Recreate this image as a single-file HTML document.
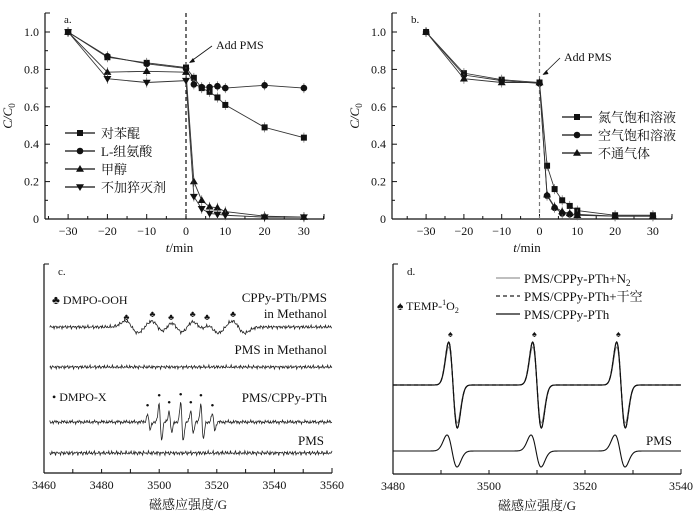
<!DOCTYPE html>
<html><head><meta charset="utf-8"><style>
body{margin:0;background:#fff}
svg{display:block;font-family:"Liberation Serif","Noto Serif CJK SC",serif}
text{fill:#111}
</style></head><body>
<svg id="s" width="697" height="519" viewBox="0 0 697 519" xmlns="http://www.w3.org/2000/svg"></svg>
<script>
// ---- data ----
const times=[-30,-20,-10,0,2,4,6,8,10,20,30];
const aNames=['对苯醌','L-组氨酸','甲醇','不加猝灭剂'];
const aBQ=[1.0,0.865,0.835,0.81,0.755,0.70,0.68,0.65,0.61,0.49,0.435];
const aHis=[1.0,0.87,0.83,0.805,0.72,0.705,0.705,0.71,0.70,0.715,0.70];
const aMeOH=[1.0,0.785,0.79,0.785,0.20,0.10,0.065,0.06,0.04,0.015,0.01];
const aNone=[1.0,0.75,0.73,0.74,0.12,0.055,0.03,0.025,0.02,0.01,0.01];
const bNames=['氮气饱和溶液','空气饱和溶液','不通气体'];
const bN2=[1.0,0.78,0.745,0.73,0.285,0.16,0.10,0.07,0.045,0.02,0.02];
const bAir=[1.0,0.77,0.74,0.725,0.125,0.06,0.03,0.025,0.025,0.015,0.015];
const bNone=[1.0,0.75,0.73,0.73,0.13,0.065,0.04,0.03,0.02,0.015,0.015];
const xTicks=[-30,-20,-10,0,10,20,30];
const yTicks=[0,0.2,0.4,0.6,0.8,1.0];
const yTickLabels=['0','0.2','0.4','0.6','0.8','1.0'];
const cTicks=[3460,3480,3500,3520,3540,3560];
const dTicks=[3480,3500,3520,3540];
const ooHPeaks=[3489,3498,3504.5,3512,3517,3526];
const dmpoXPeaks=[3496,3500,3503.5,3507.5,3511,3514.5,3518.5];
const dmpoXAmp=[8,18,11,19,11,18,8];
const tempPeaks=[3492.5,3510,3527.5];
const pmsPeaks=[3492.3,3509.8,3527.3];

const S=document.getElementById('s');const NS='http://www.w3.org/2000/svg';
function el(t,a,p){const e=document.createElementNS(NS,t);for(const k in a)e.setAttribute(k,a[k]);(p||S).appendChild(e);return e;}
function tx(x,y,s,o){const e=el('text',Object.assign({x:x,y:y,'font-size':12},o||{}));e.textContent=s;return e;}

function axesFrame(g,L,R,T,B){
  el('line',{x1:L,y1:T,x2:L,y2:B,stroke:'#111','stroke-width':1.2},g);
  el('line',{x1:L,y1:B,x2:R,y2:B,stroke:'#111','stroke-width':1.2},g);
  el('line',{x1:L,y1:T,x2:L+5,y2:T,stroke:'#111'},g);
  el('line',{x1:R,y1:B,x2:R,y2:B-5,stroke:'#111'},g);
}
function marker(g,type,x,y){
  let m;
  if(type==0)m=el('rect',{x:x-3,y:y-3,width:6,height:6,fill:'#111'},g);
  else if(type==1)m=el('circle',{cx:x,cy:y,r:3.3,fill:'#111'},g);
  else if(type==2)m=el('path',{d:`M${x},${y-4}L${x+4},${y+2.7}L${x-4},${y+2.7}Z`,fill:'#111'},g);
  else m=el('path',{d:`M${x},${y+4}L${x+4},${y-2.7}L${x-4},${y-2.7}Z`,fill:'#111'},g);
  return m;
}
function kinetic(id,L,R,T,B,x0,xs,series,names,legX,legY,dashCol,label,pmsTxt){
  const g=el('g',{});
  
  
  const X=v=>x0+v*xs, Y=v=>B-v*187;
  axesFrame(g,L,R,T,B);
  xTicks.forEach(t=>{el('line',{x1:X(t),y1:B,x2:X(t),y2:B-5,stroke:'#111'},g);tx(X(t),B+16,t<0?'−'+(-t):String(t),{'text-anchor':'middle'});});
  [-35,-25,-15,-5,5,15,25,35].forEach(t=>{if(X(t)>L&&X(t)<R)el('line',{x1:X(t),y1:B,x2:X(t),y2:B-3,stroke:'#111'},g);});
  yTicks.forEach((t,i)=>{el('line',{x1:L,y1:Y(t),x2:L+5,y2:Y(t),stroke:'#111'},g);tx(L-6,Y(t)+4,yTickLabels[i],{'text-anchor':'end'});});
  [0.1,0.3,0.5,0.7,0.9].forEach(t=>el('line',{x1:L,y1:Y(t),x2:L+3,y2:Y(t),stroke:'#111'},g));
  el('line',{x1:X(0),y1:T,x2:X(0),y2:B,stroke:dashCol,'stroke-width':1.2,'stroke-dasharray':'4,3'},g);
  const yl=tx(0,0,'',{transform:`translate(${L-33},${(T+B)/2}) rotate(-90)`,'text-anchor':'middle','font-size':13,'font-style':'italic'});
  yl.innerHTML='C/C<tspan font-size="9" dy="3" font-style="normal">0</tspan>';
  
  const xl=tx((L+R)/2-5,B+33,'',{'text-anchor':'middle','font-size':13});
  xl.innerHTML='<tspan font-style="italic">t</tspan>/min';
  
  tx(L+19,T+10,label,{'font-size':11});
  series.forEach((s,k)=>{
    const pts=s.map((v,i)=>X(times[i])+','+Y(v)).join(' ');
    const pl=el('polyline',{points:pts,fill:'none',stroke:'#333','stroke-width':0.9},g);
    
    s.forEach((v,i)=>{
      el('line',{x1:X(times[i]),y1:Y(v)-5,x2:X(times[i]),y2:Y(v)+5,stroke:'#666','stroke-width':0.7},g);
      const m=marker(g,k,X(times[i]),Y(v));
      
      
    });
  });
  names.forEach((n,k)=>{
    const y=legY+k*18;
    const lg=el('g',{},g);
    
    
    el('line',{x1:legX,y1:y,x2:legX+30,y2:y,stroke:'#111','stroke-width':1.2},lg);
    marker(lg,k,legX+15,y);
    tx(legX+36,y+5,n,{'font-size':13});
  });
  tx(pmsTxt[0],pmsTxt[1],'Add PMS',{'font-size':12});
  el('line',{x1:pmsTxt[0]-4,y1:pmsTxt[1]-3,x2:X(0)+4,y2:pmsTxt[1]+13,stroke:'#111','stroke-width':0.8},g);
  el('path',{d:`M${X(0)+3},${pmsTxt[1]+14}l6,-1l-2,-4z`,fill:'#111'},g);
}
kinetic('panel-a',45,324,13,219,186,3.93,[aBQ,aHis,aMeOH,aNone],aNames,65,133,'#111','a.',[216,49]);
kinetic('panel-b',392,672,13,219,539.5,3.78,[bN2,bAir,bNone],bNames,562,117,'#777','b.',[564,61]);

// ---- spectra ----
function dg(x,c,w){const u=(x-c)/w;return -u*Math.exp(0.5-u*u/2);}
function noise(x,k){return Math.sin(x*7.3+k)*0.9+Math.sin(x*13.7+k*2.1)*0.7+Math.sin(x*29.1+k*3.3)*0.6;}
function specPanel(id,L,R,T,B,g0,g1,ticks,minor,label){
  const g=el('g',{});
  
  axesFrame(g,L,R,T,B);
  const X=v=>L+(v-g0)*(R-L)/(g1-g0);
  for(let t=g0;t<=g1;t+=minor)el('line',{x1:X(t),y1:B,x2:X(t),y2:B-4,stroke:'#111'},g);
  ticks.forEach(t=>tx(X(t),B+16,String(t),{'text-anchor':'middle'}));
  const xl=tx((L+R)/2,B+36,'磁感应强度/G',{'text-anchor':'middle','font-size':13});
  
  tx(L+14,T+11,label,{'font-size':11});
  return {g,X};
}
function trace(g,X,g0,g1,step,fn,attrs,name){
  let d='';for(let v=g0;v<=g1;v+=step){d+=(d?'L':'M')+X(v).toFixed(2)+','+fn(v).toFixed(2);}
  const p=el('path',Object.assign({d:d,fill:'none'},attrs),g);
  
}
// panel c
const C=specPanel('panel-c',44,332,264,473,3460,3560,cTicks,10,'c.');
trace(C.g,C.X,3462,3560,0.25,v=>{let y=327+noise(v,1);ooHPeaks.forEach(c=>y-=6*dg(v,c+1.5,2.2));return y;},{stroke:'#222','stroke-width':0.8},'dmpo-ooh-trace');
trace(C.g,C.X,3462,3560,0.25,v=>367+noise(v,2),{stroke:'#222','stroke-width':0.8},'pms-methanol-trace');
trace(C.g,C.X,3462,3560,0.2,v=>{let y=422+noise(v,3);dmpoXPeaks.forEach((c,i)=>y-=dmpoXAmp[i]*dg(v,c+0.4,0.45));return y;},{stroke:'#222','stroke-width':0.8},'dmpo-x-trace');
trace(C.g,C.X,3462,3560,0.25,v=>453+noise(v,4)*1.2,{stroke:'#222','stroke-width':0.8},'pms-trace');
ooHPeaks.forEach(c=>tx(C.X(c)-4,320-(c%2?0:3),'♣',{'font-size':9}));
dmpoXPeaks.forEach((c,i)=>tx(C.X(c)-2,424-dmpoXAmp[i]-7,'•',{'font-size':11}));
tx(327,302,'CPPy-PTh/PMS',{'text-anchor':'end','font-size':13});
tx(327,318,'in Methanol',{'text-anchor':'end','font-size':13});
tx(327,354,'PMS in Methanol',{'text-anchor':'end','font-size':13});
tx(327,402,'PMS/CPPy-PTh',{'text-anchor':'end','font-size':13});
tx(324,445,'PMS',{'text-anchor':'end','font-size':13});
tx(52,304,'♣ DMPO-OOH',{'font-size':12});
tx(52,401,'• DMPO-X',{'font-size':12});
// panel d
const D=specPanel('panel-d',393,681,264,474,3480,3540,dTicks,10,'d.');
trace(D.g,D.X,3480,3540,0.1,v=>{let y=385;tempPeaks.forEach(c=>y-=38*dg(v,c,0.9));return y;},{stroke:'#999','stroke-width':1},'n2-trace');
trace(D.g,D.X,3480,3540,0.1,v=>{let y=385;tempPeaks.forEach(c=>y-=43*dg(v,c,0.9));return y;},{stroke:'#222','stroke-width':1.2,'stroke-dasharray':'4,3'},'air-trace');
trace(D.g,D.X,3480,3540,0.1,v=>{let y=385;tempPeaks.forEach(c=>y-=43*dg(v,c,0.9));return y;},{stroke:'#111','stroke-width':1.2},'cppy-trace');
trace(D.g,D.X,3480,3540,0.1,v=>{let y=451;pmsPeaks.forEach(c=>y-=16*dg(v,c,1.05));return y;},{stroke:'#111','stroke-width':1.1},'pms-d-trace');
tempPeaks.forEach(c=>tx(D.X(c)-1-4,337,'♠',{'font-size':9}));
tx(672,445,'PMS',{'text-anchor':'end','font-size':13});
const legD=[['#999',''],['#222','4,3'],['#111','']];
const legDT=['PMS/CPPy-PTh+N<tspan font-size="9" dy="3">2</tspan>','PMS/CPPy-PTh+干空','PMS/CPPy-PTh'];
legD.forEach((s,k)=>{const y=278+k*18;
  const lg=el('g',{});
  el('line',{x1:496,y1:y,x2:520,y2:y,stroke:s[0],'stroke-width':1.3,'stroke-dasharray':s[1]},lg);
  const t=tx(524,y+5,'',{'font-size':13});t.innerHTML=legDT[k];lg.appendChild(t);});
const tm=tx(397,310,'',{'font-size':12});tm.innerHTML='♠ TEMP-<tspan font-size="8" dy="-5">1</tspan><tspan dy="5">O</tspan><tspan font-size="8" dy="3">2</tspan>';
</script>
</body></html>
